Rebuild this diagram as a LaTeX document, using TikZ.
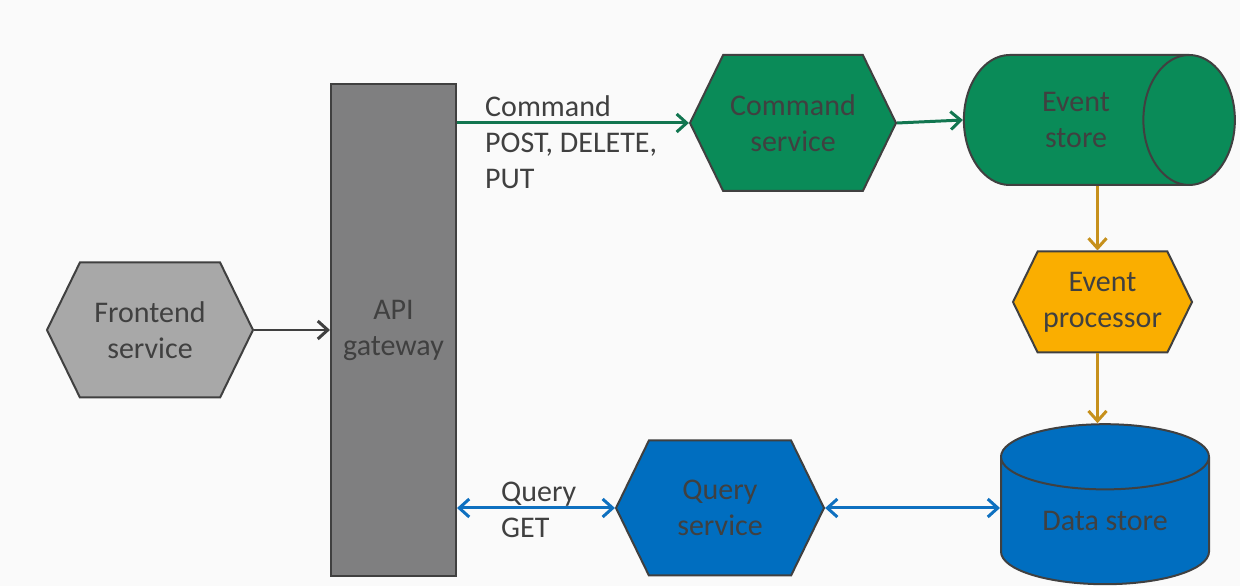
\documentclass[tikz,border=0pt]{standalone}
\usepackage{fontspec}
\setmainfont{Carlito}
\usetikzlibrary{shapes.geometric,shapes.symbols,arrows.meta}

\definecolor{bgcol}{RGB}{250,250,250}
\definecolor{edgegray}{RGB}{64,64,64}
\definecolor{txtgray}{RGB}{64,64,64}
\definecolor{frontgray}{RGB}{168,168,168}
\definecolor{gategray}{RGB}{127,127,128}
\definecolor{cmdgreen}{RGB}{10,139,88}
\definecolor{cmdarrow}{RGB}{18,118,80}
\definecolor{procorange}{RGB}{250,174,0}
\definecolor{procarrow}{RGB}{198,144,28}
\definecolor{qryblue}{RGB}{0,110,192}
\definecolor{qryarrow}{RGB}{14,112,192}

\begin{document}
\begin{tikzpicture}[x=1pt,y=1pt,
    every node/.style={font=\fontsize{30}{36}\selectfont, text=txtgray, align=center},
    box/.style={draw=edgegray, line width=2pt, inner sep=0pt},
    hexa/.style={box, signal, signal to=east and west, signal from=nowhere, signal pointer angle=128},
    tip/.style={Straight Barb[length=10pt,width=18pt,line width=3pt]},
    link/.style={line width=3pt, -{Straight Barb[length=10pt,width=18pt,line width=3pt]}},
    both/.style={line width=3pt, {Straight Barb[length=10pt,width=18pt,line width=3pt]}-{Straight Barb[length=10pt,width=18pt,line width=3pt]}},
  ]
  \useasboundingbox (0,0) rectangle (1240,586);
  \fill[bgcol] (0,0) rectangle (1240,586);

  % services and stores
  \node[hexa, fill=frontgray, minimum width=206pt, minimum height=135pt] (front) at (150,256) {Frontend\\service};
  \node[box, fill=gategray, minimum width=125pt, minimum height=492pt] (gate) at (393.5,256) {API\\gateway};
  \node[hexa, fill=cmdgreen, minimum width=206pt, minimum height=136pt] (cmd) at (793,463) {Command\\service};
  \node[box, cylinder, aspect=1.65, fill=cmdgreen, minimum width=130pt, minimum height=271pt] (store) at (1076,466) {Event\\store};
  \node[hexa, fill=procorange, minimum width=179pt, minimum height=101pt] (proc) at (1102.5,284) {Event\\processor};
  \node[box, cylinder, shape border rotate=90, aspect=0.52, fill=qryblue, minimum width=208pt, minimum height=160pt] (data) at (1105,65) {Data store};
  \node[hexa, fill=qryblue, minimum width=208pt, minimum height=135pt] (query) at (720,78) {Query\\service};

  % labels
  \node[anchor=west, align=left, inner sep=0pt] (cmdlabel) at (485,444) {Command\\POST, DELETE,\\PUT};
  \node[anchor=west, align=left, inner sep=0pt] (qrylabel) at (501,76) {Query\\GET};

  % connectors
  \coordinate (procin) at ([xshift=-5pt]proc.north);
  \coordinate (procout) at ([xshift=-5pt]proc.south);
  \draw[link, edgegray, line width=2pt] (front.east) -- (gate.west);
  \draw[link, cmdarrow] (gate.east |- cmd.west) -- (cmd.west);
  \draw[link, cmdarrow] (cmd.east) -- (store.west);
  \draw[link, procarrow] (procin |- store.south) -- (procin);
  \draw[link, procarrow] (procout) -- (procout |- data.north);
  \draw[both, qryarrow] (gate.east |- query.west) -- (query.west);
  \draw[both, qryarrow] (query.east) -- (query.east -| data.west);
\end{tikzpicture}
\end{document}
